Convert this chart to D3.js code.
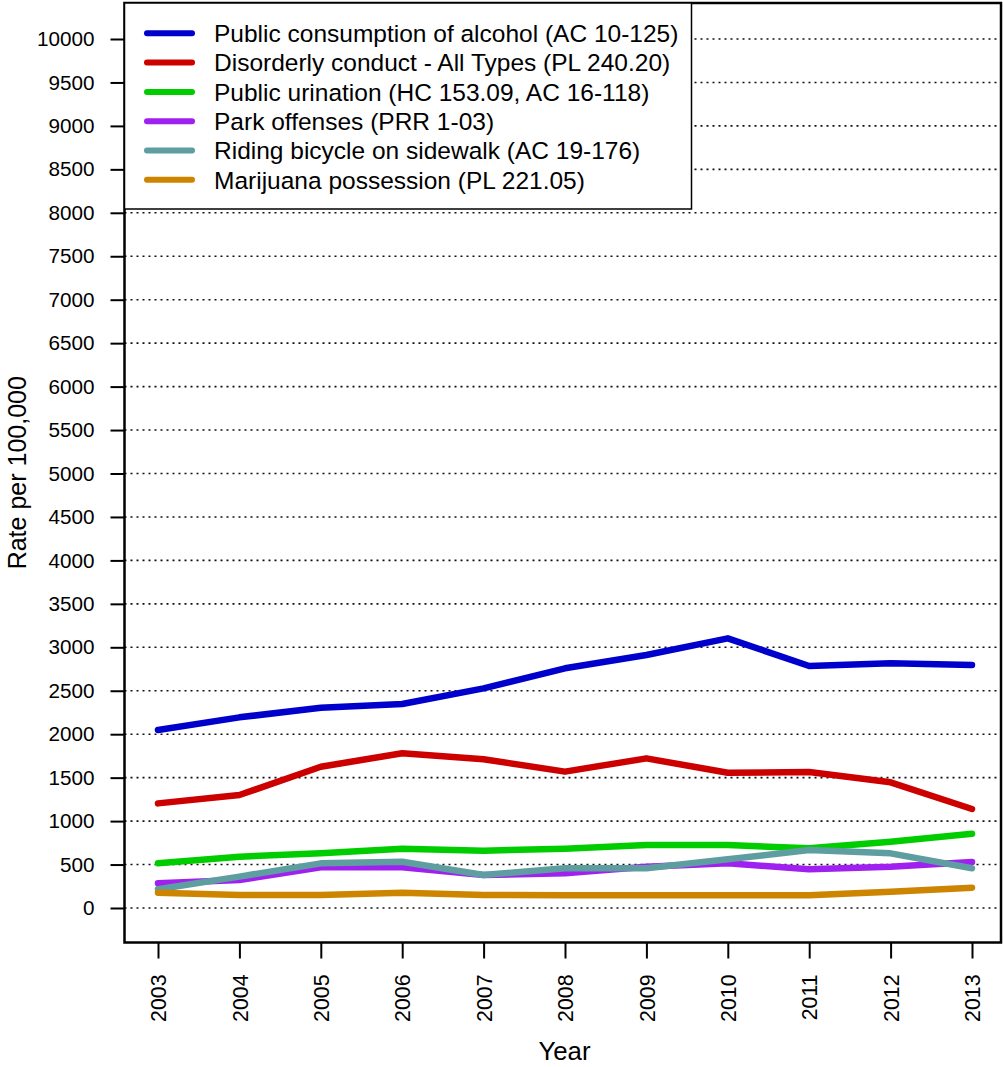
<!DOCTYPE html>
<html>
<head>
<meta charset="utf-8">
<script src="https://cdn.jsdelivr.net/npm/d3@7"></script>
<style>
  html, body { margin: 0; padding: 0; background: #fff; }
  svg { display: block; font-family: "Liberation Sans", Arial, Helvetica, sans-serif; }
</style>
</head>
<body>
<script>
const years = [2003, 2004, 2005, 2006, 2007, 2008, 2009, 2010, 2011, 2012, 2013];
const seriesNames = [
  "Public consumption of alcohol (AC 10-125)",
  "Disorderly conduct - All Types (PL 240.20)",
  "Public urination (HC 153.09, AC 16-118)",
  "Park offenses (PRR 1-03)",
  "Riding bicycle on sidewalk (AC 19-176)",
  "Marijuana possession (PL 221.05)"
];
const seriesColors = ["#0000CD", "#CD0000", "#00CD00", "#A020F0", "#5F9EA0", "#CD8500"];
const alcohol    = [2048, 2194, 2305, 2347, 2528, 2758, 2911, 3103, 2785, 2816, 2796];
const disorderly = [1204, 1300, 1626, 1780, 1711, 1569, 1722, 1557, 1565, 1446, 1139];
const urination  = [514, 591, 629, 683, 660, 683, 725, 725, 687, 763, 855];
const park       = [284, 322, 468, 468, 380, 399, 475, 514, 445, 475, 529];
const bicycle    = [215, 361, 514, 533, 380, 457, 457, 560, 667, 629, 457];
const marijuana  = [176, 150, 150, 176, 150, 146, 146, 146, 146, 188, 234];
const seriesValues = [alcohol, disorderly, urination, park, bicycle, marijuana];
const yTicks = d3.range(0, 10001, 500);
const xLabel = "Year";
const yLabel = "Rate per 100,000";

const W = 1003, H = 1067;
const box = {left: 124.5, right: 1001, top: 3, bottom: 942.5};

const svg = d3.select("body").append("svg").attr("width", W).attr("height", H);

const x = d3.scaleLinear().domain([2003, 2013]).range([158, 972]);
const y = d3.scaleLinear().domain([0, 10000]).range([908, 39]);

// gridlines
svg.append("g").selectAll("line").data(yTicks).join("line")
  .attr("x1", box.left).attr("x2", box.right)
  .attr("y1", d => y(d)).attr("y2", d => y(d))
  .attr("stroke", "#111").attr("stroke-width", 1.6)
  .attr("stroke-dasharray", "2,4");

// y axis
const yAxis = d3.axisLeft(y).tickValues(yTicks).tickSize(14).tickPadding(16).tickFormat(d3.format("d"));
const gy = svg.append("g").attr("transform", `translate(${box.left},0)`).call(yAxis);
gy.select(".domain").remove();
gy.selectAll(".tick line").attr("stroke", "#000").attr("stroke-width", 2);
gy.selectAll(".tick text").attr("font-size", "20.7px").attr("fill", "#000")
  .attr("font-family", "Liberation Sans, Arial, sans-serif");

// x axis
const xAxis = d3.axisBottom(x).tickValues(years).tickSize(16).tickFormat(d3.format("d"));
const gx = svg.append("g").attr("transform", `translate(0,${box.bottom})`).call(xAxis);
gx.select(".domain").remove();
gx.selectAll(".tick line").attr("stroke", "#000").attr("stroke-width", 2);
gx.selectAll(".tick text")
  .attr("font-size", "21.3px").attr("fill", "#000")
  .attr("font-family", "Liberation Sans, Arial, sans-serif")
  .attr("transform", "translate(0,32) rotate(-90)")
  .attr("text-anchor", "end").attr("x", 0).attr("y", 0).attr("dy", "0.36em");

// lines
const line = d3.line().x((d, i) => x(years[i])).y(d => y(d));
svg.append("g").selectAll("path").data(seriesValues).join("path")
  .attr("d", d => line(d))
  .attr("fill", "none")
  .attr("stroke", (d, i) => seriesColors[i])
  .attr("stroke-width", 6.5)
  .attr("stroke-linecap", "round")
  .attr("stroke-linejoin", "round");

// plot box
svg.append("rect")
  .attr("x", box.left).attr("y", box.top)
  .attr("width", box.right - box.left).attr("height", box.bottom - box.top)
  .attr("fill", "none").attr("stroke", "#000").attr("stroke-width", 2.5);

// legend
const lg = svg.append("g");
lg.append("rect")
  .attr("x", box.left).attr("y", box.top)
  .attr("width", 691.5 - box.left).attr("height", 209 - box.top)
  .attr("fill", "#fff").attr("stroke", "#000").attr("stroke-width", 1.5);
const rows = lg.selectAll("g.row").data(seriesNames).join("g")
  .attr("class", "row")
  .attr("transform", (d, i) => `translate(0,${33.3 + i * 29.3})`);
rows.append("line")
  .attr("x1", 147).attr("x2", 192)
  .attr("stroke", (d, i) => seriesColors[i])
  .attr("stroke-width", 6).attr("stroke-linecap", "round");
rows.append("text")
  .attr("x", 214).attr("dy", "0.36em")
  .attr("font-size", "24.5px").attr("fill", "#000")
  .text(d => d);

// axis titles
svg.append("text")
  .attr("x", 564.5).attr("y", 1050.5).attr("dy", "0.36em")
  .attr("text-anchor", "middle").attr("font-size", "25.8px")
  .text(xLabel);
svg.append("text")
  .attr("transform", `translate(17,${(box.top + box.bottom) / 2}) rotate(-90)`)
  .attr("dy", "0.36em")
  .attr("text-anchor", "middle").attr("font-size", "25px")
  .text(yLabel);
</script>
</body>
</html>
